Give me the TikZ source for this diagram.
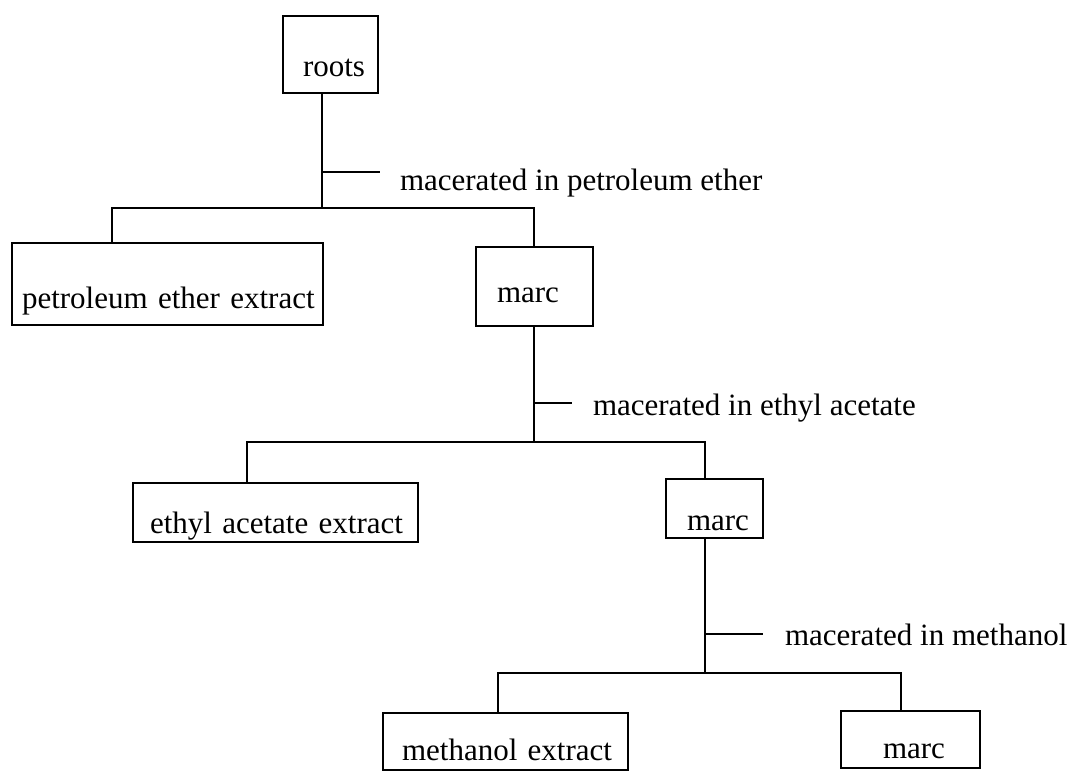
\documentclass[tikz,border=0pt]{standalone}
\usepackage{fontspec}
\setmainfont{Liberation Serif}
\begin{document}
\begin{tikzpicture}[x=1pt,y=-1pt,
  every node/.style={font=\fontsize{31}{36}\selectfont, inner ysep=0pt, outer sep=0pt},
  box/.style={draw, line width=2pt, anchor=base west, align=left},
  lbl/.style={anchor=base west, inner xsep=0pt},
  conn/.style={line width=2pt}]
\useasboundingbox (0,0) rectangle (1079,771);
% boxes: anchor at (left, baseline)
\node[box, inner xsep=20pt, text width=55pt, text height=60pt, text depth=17pt] (roots) at (283,76) {\mbox{roots}};
\node[box, inner xsep=10pt, text width=291pt, text height=65pt, text depth=17pt] (pet) at (12,308) {\mbox{petroleum ether extract}};
\node[box, inner xsep=21pt, text width=75pt, text height=55pt, text depth=24pt] (marc1) at (476,302) {\mbox{marc}};
\node[box, inner xsep=17pt, text width=251pt, text height=50pt, text depth=9pt] (ethyl) at (133,533) {\mbox{ethyl acetate extract}};
\node[box, inner xsep=21pt, text width=55pt, text height=51pt, text depth=8pt] (marc2) at (666,530) {\mbox{marc}};
\node[box, inner xsep=19pt, text width=207pt, text height=47pt, text depth=10pt] (meth) at (383,760) {\mbox{methanol extract}};
\node[box, inner xsep=42pt, text width=55pt, text height=47pt, text depth=10pt] (marc3) at (841,758) {\mbox{marc}};
% labels
\node[lbl] (l1) at (400,190) {macerated in petroleum ether};
\node[lbl] (l2) at (593,415) {macerated in ethyl acetate};
\node[lbl] (l3) at (785,645) {macerated in methanol};
% junction coordinates
\coordinate (j1) at (322,208);
\coordinate (a1) at (112,208);
\coordinate (b1) at (534,208);
\coordinate (t1) at (380,172);
\coordinate (j2) at (534,442);
\coordinate (a2) at (247,442);
\coordinate (b2) at (705,442);
\coordinate (t2) at (572,403);
\coordinate (j3) at (705,673);
\coordinate (a3) at (498,673);
\coordinate (b3) at (901,673);
\coordinate (t3) at (763,634);
% connectors
\draw[conn] (j1 |- roots.south) -- (j1);
\draw[conn] (j1 |- t1) -- (t1);
\draw[conn] (a1 |- pet.north) -- (a1) -- (b1) -- (b1 |- marc1.north);
\draw[conn] (j2 |- marc1.south) -- (j2);
\draw[conn] (j2 |- t2) -- (t2);
\draw[conn] (a2 |- ethyl.north) -- (a2) -- (b2) -- (b2 |- marc2.north);
\draw[conn] (j3 |- marc2.south) -- (j3);
\draw[conn] (j3 |- t3) -- (t3);
\draw[conn] (a3 |- meth.north) -- (a3) -- (b3) -- (b3 |- marc3.north);
\end{tikzpicture}
\end{document}
